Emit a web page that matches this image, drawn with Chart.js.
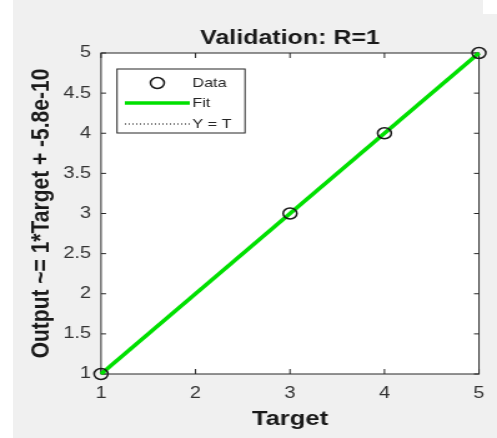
<!DOCTYPE html>
<html><head><meta charset="utf-8">
<script src="https://cdn.jsdelivr.net/npm/chart.js@4.4.0/dist/chart.umd.min.js"></script>
<style>
html,body{margin:0;padding:0;background:#f0f0f0;width:497px;height:438px;overflow:hidden;position:relative}
#wl{position:absolute;left:0;top:0;width:13px;height:438px;background:#fff}
#wr{position:absolute;left:483px;top:0;width:14px;height:14px;background:#fff}
#c{position:absolute;left:0;top:0;}
</style></head><body>
<div id="wl"></div><div id="wr"></div>
<canvas id="c" width="398" height="438" style="width:497px;height:438px"></canvas>
<script>
const titleText = 'Validation: R=1';
const xTitle = 'Target';
const yTitle = 'Output ~= 1*Target + -5.8e-10';
const targets = [1, 3, 4, 5];
const outputs = [1, 3, 4, 5];
const fitX = [1, 5];
const fitY = [1, 5];
const idealX = [1, 5];
const idealY = [1, 5];
const legendLabels = ['Data', 'Fit', 'Y = T'];
const xTicks = [1, 2, 3, 4, 5];
const yTicks = [1, 1.5, 2, 2.5, 3, 3.5, 4, 4.5, 5];

const FONT = 'Liberation Sans, Arial, sans-serif';
const AXC = '#262626';

const frame = {
  id: 'frame',
  beforeDraw(chart) {
    const {ctx, chartArea: a} = chart;
    ctx.save();
    ctx.fillStyle = '#fff';
    ctx.fillRect(a.left, a.top, a.right - a.left, a.bottom - a.top);
    ctx.restore();
  },
  beforeDatasetsDraw(chart) {
    const {ctx, chartArea: a, scales} = chart;
    ctx.save();
    ctx.strokeStyle = AXC;
    ctx.lineWidth = 1;
    ctx.strokeRect(a.left, a.top, a.right - a.left, a.bottom - a.top);
    ctx.beginPath();
    scales.x.ticks.forEach(t => {
      const px = scales.x.getPixelForValue(t.value);
      ctx.moveTo(px, a.bottom); ctx.lineTo(px, a.bottom - 5);
      ctx.moveTo(px, a.top); ctx.lineTo(px, a.top + 5);
    });
    scales.y.ticks.forEach(t => {
      const py = scales.y.getPixelForValue(t.value);
      ctx.moveTo(a.left, py); ctx.lineTo(a.left + 4, py);
      ctx.moveTo(a.right, py); ctx.lineTo(a.right - 4, py);
    });
    ctx.stroke();
    ctx.restore();
  },
  afterDraw(chart) {
    const {ctx} = chart;
    const ds = chart.data.datasets;
    const box = {l: 93.7, r: 196.2, t: 69, b: 133};
    const rows = [83, 103, 124];
    ctx.save();
    ctx.fillStyle = '#fff';
    ctx.fillRect(box.l, box.t, box.r - box.l, box.b - box.t);
    ctx.strokeStyle = AXC;
    ctx.lineWidth = 1;
    ctx.strokeRect(box.l, box.t, box.r - box.l, box.b - box.t);
    const sx0 = 100, sx1 = 152, tx = 154;
    // Data marker
    ctx.beginPath();
    ctx.lineWidth = ds[0].pointBorderWidth;
    ctx.strokeStyle = ds[0].pointBorderColor;
    ctx.arc((sx0 + sx1) / 2, rows[0], ds[0].pointRadius, 0, Math.PI * 2);
    ctx.stroke();
    // Fit
    ctx.beginPath();
    ctx.lineWidth = ds[1].borderWidth;
    ctx.strokeStyle = ds[1].borderColor;
    ctx.moveTo(sx0, rows[1]); ctx.lineTo(sx1, rows[1]);
    ctx.stroke();
    // Y = T
    ctx.beginPath();
    ctx.lineWidth = ds[2].borderWidth;
    ctx.strokeStyle = ds[2].borderColor;
    ctx.setLineDash(ds[2].borderDash);
    ctx.moveTo(sx0, rows[2]); ctx.lineTo(sx1, rows[2]);
    ctx.stroke();
    ctx.setLineDash([]);
    ctx.fillStyle = AXC;
    ctx.font = '13px ' + FONT;
    ctx.textBaseline = 'middle';
    ctx.textAlign = 'left';
    ds.forEach((d, i) => ctx.fillText(d.label, tx, rows[i]));
    ctx.restore();
  }
};

new Chart(document.getElementById('c'), {
  type: 'scatter',
  data: {
    datasets: [
      {label: legendLabels[0], data: targets.map((t, i) => ({x: t, y: outputs[i]})),
       showLine: false, pointRadius: 5.5, pointStyle: 'circle', pointBorderColor: '#1a1a1a',
       pointBackgroundColor: 'rgba(0,0,0,0)', pointBorderWidth: 1.5, clip: false},
      {label: legendLabels[1], data: fitX.map((x, i) => ({x: x, y: fitY[i]})),
       showLine: true, borderColor: '#00e000', borderWidth: 3.5, pointRadius: 0, clip: false},
      {label: legendLabels[2], data: idealX.map((x, i) => ({x: x, y: idealY[i]})),
       showLine: true, borderColor: '#000', borderWidth: 1, borderDash: [1, 2], pointRadius: 0}
    ]
  },
  options: {
    responsive: false, animation: false, devicePixelRatio: 1,
    events: [],
    layout: {padding: {left: 0, right: 11.2, top: 0, bottom: 0}},
    plugins: {
      legend: {display: false},
      tooltip: {enabled: false},
      title: {display: true, text: titleText, fullSize: false, color: '#1a1a1a',
        font: {family: FONT, size: 20, weight: 'bold'}, padding: {top: 26, bottom: 3}}
    },
    scales: {
      x: {
        type: 'linear', min: 1, max: 5,
        afterBuildTicks(s) { s.ticks = xTicks.map(v => ({value: v})); },
        afterFit(s) { s.height = 64; },
        ticks: {color: '#333', font: {family: FONT, size: 16}, padding: 10, callback: v => String(v)},
        grid: {display: false, drawTicks: false},
        border: {display: false},
        title: {display: true, text: xTitle, color: '#1a1a1a',
          font: {family: FONT, size: 20.5, weight: 'bold'}, padding: {top: 0, bottom: 6}}
      },
      y: {
        type: 'linear', min: 1, max: 5,
        afterBuildTicks(s) { s.ticks = yTicks.map(v => ({value: v})); },
        afterFit(s) { s.width = 80.9; },
        ticks: {color: '#333', font: {family: FONT, size: 16}, padding: 8, callback: v => String(v)},
        grid: {display: false, drawTicks: false},
        border: {display: false},
        title: {display: true, text: yTitle, color: '#1a1a1a',
          font: {family: FONT, size: 21, weight: 'bold'}, padding: {top: 20.5, bottom: 0}}
      }
    }
  },
  plugins: [frame]
});
</script>
</body></html>
